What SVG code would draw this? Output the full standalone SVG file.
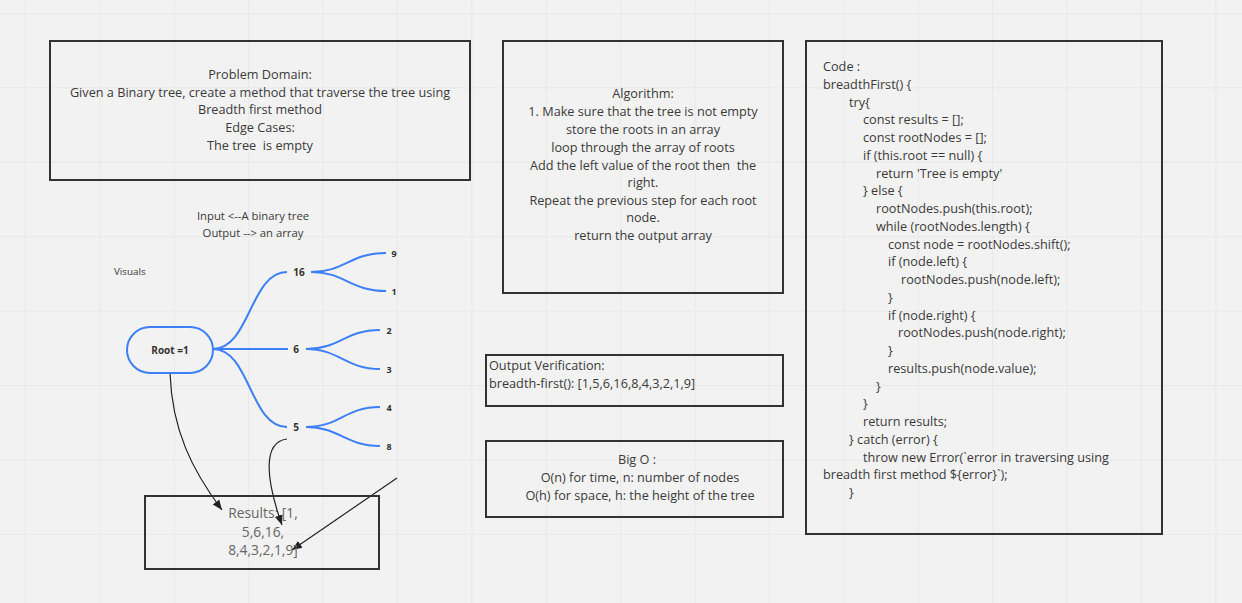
<svg xmlns="http://www.w3.org/2000/svg" width="1242" height="603" viewBox="0 0 1242 603">
<style>
.grid{stroke:#e8e8e8;stroke-width:1}
.box{fill:none;stroke:#333;stroke-width:2}
.t{font-family:"Open Sans","Liberation Sans",sans-serif;font-size:12.7px;fill:#3a3a3a;white-space:pre}
.c{text-anchor:middle}
.blue{fill:none;stroke:#3d7ff5;stroke-width:2}
.arr{fill:none;stroke:#222;stroke-width:1.2}
.n{font-family:"Open Sans","Liberation Sans",sans-serif;font-size:10px;font-weight:bold;fill:#333;text-anchor:middle}
</style>
<defs>
<marker id="ah" viewBox="0 0 10 10" refX="10" refY="5" markerWidth="10" markerHeight="10" markerUnits="userSpaceOnUse" orient="auto">
<path d="M0,1 L10,5 L0,9 Z" fill="#222"/>
</marker>
</defs>
<rect width="1242" height="603" fill="#f2f2f2"/>
<g id="grid">
<path class="grid" d="M25.5,0V603M99.9,0V603M174.3,0V603M248.7,0V603M323.1,0V603M397.5,0V603M471.9,0V603M546.3,0V603M620.7,0V603M695.1,0V603M769.5,0V603M843.9,0V603M918.3,0V603M992.7,0V603M1067.1,0V603M1141.5,0V603M1215.9,0V603"/>
<path class="grid" d="M0,13.5H1242M0,87.9H1242M0,162.3H1242M0,236.7H1242M0,311.1H1242M0,385.5H1242M0,459.9H1242M0,534.3H1242"/>
</g>

<g id="problem">
<rect class="box" x="50" y="41" width="420" height="139"/>
<text class="t c" x="260" y="79">Problem Domain:</text>
<text class="t c" x="260" y="96.5">Given a Binary tree, create a method that traverse the tree using</text>
<text class="t c" x="260" y="114">Breadth first method</text>
<text class="t c" x="260" y="132">Edge Cases:</text>
<text class="t c" x="260" y="149.5" xml:space="preserve">The tree  is empty</text>
</g>

<g id="algorithm">
<rect class="box" x="503" y="41" width="280" height="252"/>
<text class="t c" x="643" y="98">Algorithm:</text>
<text class="t c" x="643" y="116">1. Make sure that the tree is not empty</text>
<text class="t c" x="643" y="134">store the roots in an array</text>
<text class="t c" x="643" y="152">loop through the array of roots</text>
<text class="t c" x="643" y="170" xml:space="preserve">Add the left value of the root then  the</text>
<text class="t c" x="643" y="187">right.</text>
<text class="t c" x="643" y="205">Repeat the previous step for each root</text>
<text class="t c" x="643" y="222">node.</text>
<text class="t c" x="643" y="240">return the output array</text>
</g>

<g id="code">
<rect class="box" x="806" y="41" width="356" height="493"/>
<text class="t" x="823" y="71">Code :</text>
<text class="t" x="823" y="88.75">breadthFirst() {</text>
<text class="t" x="849" y="106.5">try{</text>
<text class="t" x="863" y="124.25">const results = [];</text>
<text class="t" x="863" y="142">const rootNodes = [];</text>
<text class="t" x="863" y="159.75">if (this.root == null) {</text>
<text class="t" x="876" y="177.5">return 'Tree is empty'</text>
<text class="t" x="863" y="195.25">} else {</text>
<text class="t" x="876" y="213">rootNodes.push(this.root);</text>
<text class="t" x="876" y="230.75">while (rootNodes.length) {</text>
<text class="t" x="888" y="248.5">const node = rootNodes.shift();</text>
<text class="t" x="888" y="266.25">if (node.left) {</text>
<text class="t" x="901" y="284">rootNodes.push(node.left);</text>
<text class="t" x="888" y="301.75">}</text>
<text class="t" x="888" y="319.5">if (node.right) {</text>
<text class="t" x="898" y="337.25">rootNodes.push(node.right);</text>
<text class="t" x="888" y="355">}</text>
<text class="t" x="888" y="372.75">results.push(node.value);</text>
<text class="t" x="876" y="390.5">}</text>
<text class="t" x="863" y="408.25">}</text>
<text class="t" x="863" y="426">return results;</text>
<text class="t" x="849" y="443.75">} catch (error) {</text>
<text class="t" x="863" y="461.5">throw new Error(`error in traversing using</text>
<text class="t" x="823" y="479.25">breadth first method ${error}`);</text>
<text class="t" x="849" y="497">}</text>
</g>

<g id="verification">
<rect class="box" x="486" y="355" width="297" height="51"/>
<text class="t" x="489" y="370">Output Verification:</text>
<text class="t" x="489" y="388">breadth-first(): [1,5,6,16,8,4,3,2,1,9]</text>
</g>

<g id="bigo">
<rect class="box" x="486" y="441" width="297" height="76"/>
<text class="t c" x="637" y="464">Big O :</text>
<text class="t c" x="640" y="482">O(n) for time, n: number of nodes</text>
<text class="t c" x="640" y="500">O(h) for space, h: the height of the tree</text>
</g>

<g id="io-label">
<text class="t c" x="253" y="220" style="font-size:11.3px">Input &lt;--A binary tree</text>
<text class="t c" x="253" y="237" style="font-size:11.3px">Output --&gt; an array</text>
</g>
<g id="visuals-label">
<text class="t" x="114" y="275" style="font-size:9.8px">Visuals</text>
</g>

<g id="connectors">
<path class="blue" d="M213,349 C250,349 250,272 287,272"/>
<path class="blue" d="M213,349 L288,349"/>
<path class="blue" d="M213,349 C250,349 250,427 287,427"/>
<path class="blue" d="M311,272 C345,272 350,253 386,253"/>
<path class="blue" d="M311,272 C345,272 350,291 386,291"/>
<path class="blue" d="M306,349 C340,349 345,330 380,330"/>
<path class="blue" d="M306,349 C340,349 345,369 380,369"/>
<path class="blue" d="M306,427 C340,427 345,407 380,407"/>
<path class="blue" d="M306,427 C340,427 345,446 380,446"/>
<path class="arr" d="M170,373 C172,430 192,470 222,510" marker-end="url(#ah)"/>
<path class="arr" d="M287,439 C262,442 266,480 282,525" marker-end="url(#ah)"/>
<path class="arr" d="M397,478 L292,550" marker-end="url(#ah)"/>
</g>

<g id="root">
<rect x="127" y="327" width="86" height="46" rx="23" fill="none" stroke="#3d7ff5" stroke-width="2"/>
<text class="n" x="170" y="353.5">Root =1</text>
</g>
<g id="n16"><text class="n" x="299" y="275.5">16</text></g>
<g id="n6"><text class="n" x="296" y="352.5">6</text></g>
<g id="n5"><text class="n" x="296" y="430.5">5</text></g>
<g id="n9"><text class="n" x="394" y="256.5" style="font-size:9px">9</text></g>
<g id="n1"><text class="n" x="394" y="294.5" style="font-size:9px">1</text></g>
<g id="n2"><text class="n" x="389" y="333.5" style="font-size:9px">2</text></g>
<g id="n3"><text class="n" x="389" y="372.5" style="font-size:9px">3</text></g>
<g id="n4"><text class="n" x="389" y="410.5" style="font-size:9px">4</text></g>
<g id="n8"><text class="n" x="389" y="449.5" style="font-size:9px">8</text></g>

<g id="results">
<rect class="box" x="145" y="496" width="234" height="73"/>
<text class="t c" x="263" y="518" style="font-size:13.8px;fill:#666">Results: [1,</text>
<text class="t c" x="263" y="537" style="font-size:13.8px;fill:#666">5,6,16,</text>
<text class="t c" x="263" y="555" style="font-size:13.8px;fill:#666">8,4,3,2,1,9]</text>
</g>
</svg>
